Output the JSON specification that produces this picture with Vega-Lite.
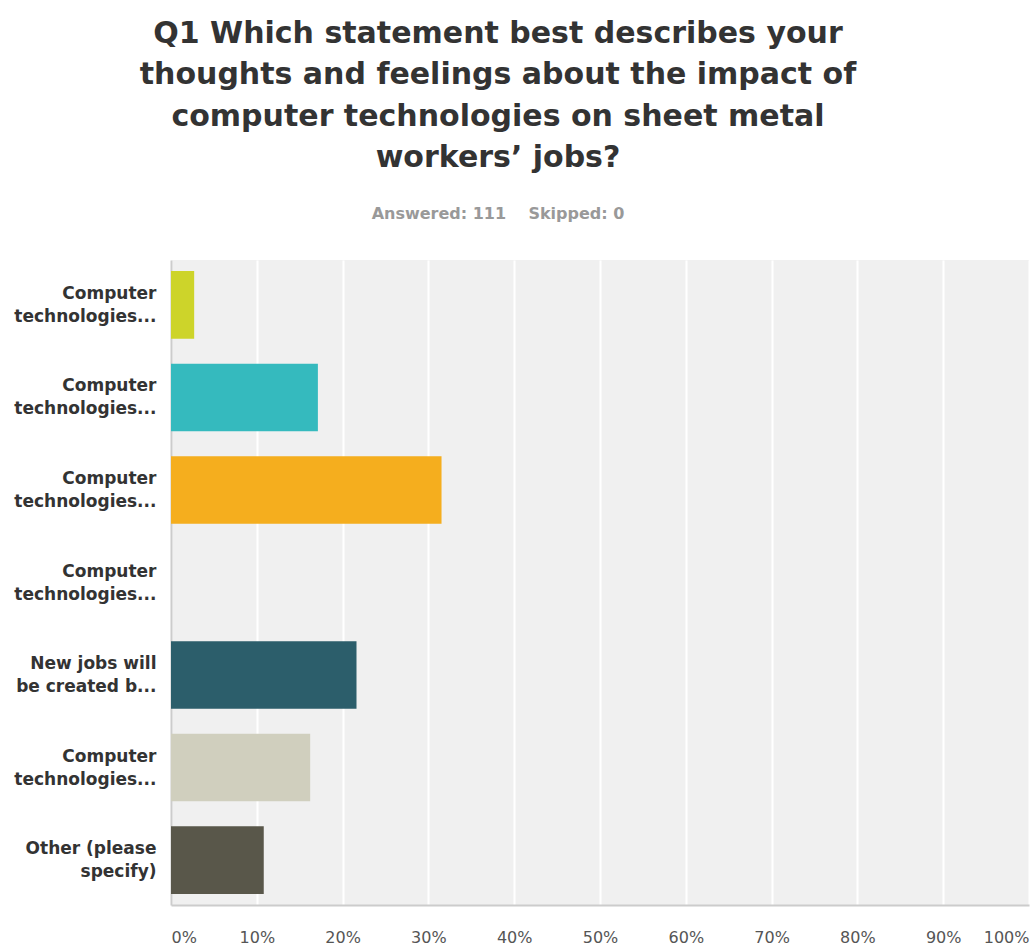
{
  "$schema": "https://vega.github.io/schema/vega-lite/v6.json",
  "width": 858,
  "height": 645,
  "autosize": {"type": "none"},
  "padding": {"left": 171, "top": 260, "right": 2, "bottom": 42},
  "background": "white",
  "title": {
    "text": ["Q1 Which statement best describes your", "thoughts and feelings about the impact of", "computer technologies on sheet metal", "workers’ jobs?"],
    "subtitle": "Answered: 111\u00a0\u00a0\u00a0\u00a0Skipped: 0",
    "anchor": "middle",
    "frame": "group",
    "dx": -102,
    "offset": 38,
    "font": "DejaVu Sans",
    "fontSize": 30,
    "fontWeight": "bold",
    "color": "#333333",
    "lineHeight": 41.5,
    "subtitleFont": "DejaVu Sans",
    "subtitleFontSize": 16,
    "subtitleFontWeight": "bold",
    "subtitleColor": "#999999",
    "subtitlePadding": 33
  },
  "data": {
    "values": [
      {"answer": "Computer|technologies...|1", "percent": 0.027, "color": "#cdd42a"},
      {"answer": "Computer|technologies...|2", "percent": 0.1712, "color": "#35babe"},
      {"answer": "Computer|technologies...|3", "percent": 0.3153, "color": "#f5ae1e"},
      {"answer": "Computer|technologies...|4", "percent": 0.0, "color": "#9a9a9a"},
      {"answer": "New jobs will|be created b...|5", "percent": 0.2162, "color": "#2c5e6b"},
      {"answer": "Computer|technologies...|6", "percent": 0.1622, "color": "#d0cfbe"},
      {"answer": "Other (please|specify)|7", "percent": 0.1081, "color": "#59574a"}
    ]
  },
  "mark": {"type": "bar"},
  "encoding": {
    "y": {
      "field": "answer",
      "type": "nominal",
      "sort": null,
      "scale": {"paddingInner": 0.27, "paddingOuter": 0.12},
      "axis": {
        "title": null,
        "labelExpr": "[split(datum.value,'|')[0], split(datum.value,'|')[1]]",
        "labelFont": "DejaVu Sans",
        "labelFontSize": 17,
        "labelFontWeight": "bold",
        "labelColor": "#333333",
        "labelLineHeight": 23,
        "labelPadding": 15,
        "labelOffset": -11,
        "labelLimit": 200,
        "ticks": false,
        "domain": true,
        "domainColor": "#cccccc",
        "domainWidth": 2,
        "grid": false
      }
    },
    "x": {
      "field": "percent",
      "type": "quantitative",
      "scale": {"domain": [0, 1], "nice": false},
      "axis": {
        "title": null,
        "format": ".0%",
        "values": [0, 0.1, 0.2, 0.3, 0.4, 0.5, 0.6, 0.7, 0.8, 0.9, 1],
        "labelFlush": true,
        "labelFlushOffset": 0,
        "labelFont": "DejaVu Sans",
        "labelFontSize": 16,
        "labelColor": "#555555",
        "labelPadding": 24,
        "ticks": false,
        "domain": true,
        "domainColor": "#cccccc",
        "domainWidth": 2,
        "grid": true,
        "gridColor": "#ffffff",
        "gridWidth": 2,
        "gridOpacity": 1
      }
    },
    "color": {"field": "color", "type": "nominal", "scale": null, "legend": null},
    "tooltip": [{"field": "answer"}, {"field": "percent", "format": ".2%"}]
  },
  "config": {
    "view": {"fill": "#f0f0f0", "stroke": null}
  }
}
